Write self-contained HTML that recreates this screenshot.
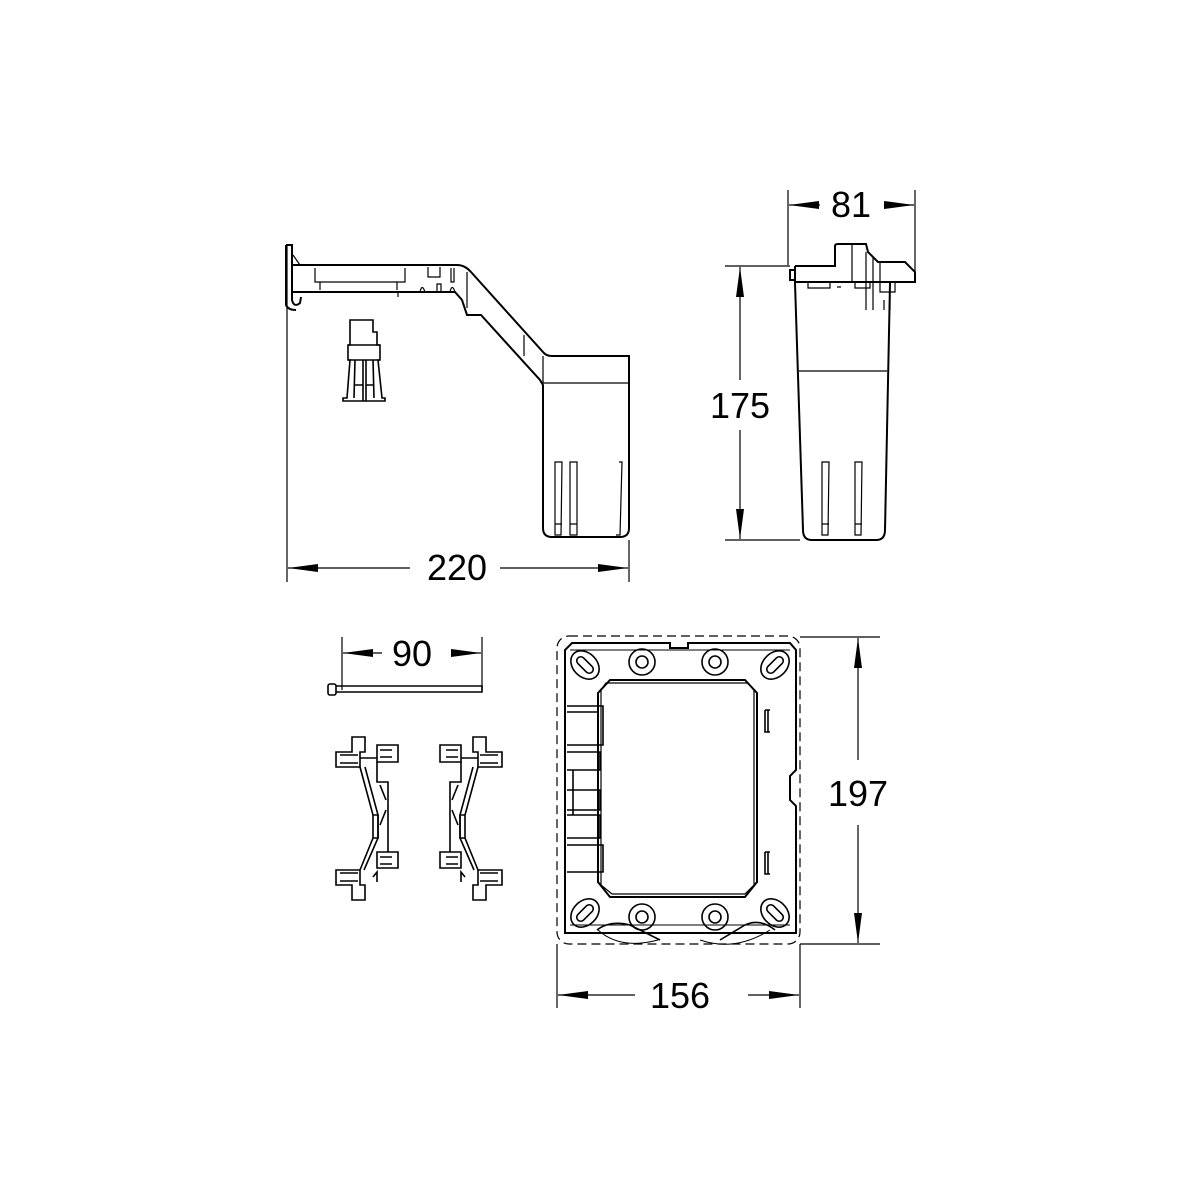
<!DOCTYPE html>
<html><head><meta charset="utf-8"><style>
html,body{margin:0;padding:0;background:#fff;}
svg{display:block}
text{font-family:"Liberation Sans",sans-serif;font-size:36px;fill:#000;}
</style></head><body>
<svg width="1200" height="1200" viewBox="0 0 1200 1200" xmlns="http://www.w3.org/2000/svg">
<defs>
<marker id="ar" markerWidth="30" markerHeight="10" refX="30" refY="5" orient="auto" markerUnits="userSpaceOnUse">
<path d="M0,1 L30,5 L0,9 Z" fill="#000"/></marker>
</defs>
<g fill="none" stroke="#000" stroke-width="1.2">
<!-- ===== Dimension 220 ===== -->
<line x1="287" y1="245" x2="287" y2="582"/>
<line x1="629" y1="540" x2="629" y2="582"/>
<line x1="330" y1="568" x2="288" y2="568" marker-end="url(#ar)"/>
<line x1="410" y1="568" x2="330" y2="568"/>
<line x1="500" y1="568" x2="628" y2="568" marker-end="url(#ar)"/>

<!-- ===== Side view ===== -->
<g stroke-width="2">
<path d="M286,245 L292,245 L292,300 Q294,308 300,303 L301,297"/>
<path d="M286,245 L286,305 Q288,310 296,310"/>
<path d="M292,265 L457,265 Q465,265 471,272 L543,352 Q546,356 552,356 L629,356 L629,528 Q629,537 620,537 L552,537 Q543,537 543,528 L543,385 L540,380 L481,315 L467,315 L462,300 L455,292 L292,292"/>
</g>
<path d="M293,255 L300,265"/>
<path d="M315,268 L315,282 L405,282 L405,268"/>
<path d="M320,282 L320,290 M397,282 L397,290"/>
<path d="M398,292 L398,297"/>
<path d="M428,267 L428,277 L440,277 L440,267"/>
<path d="M451,268 L451,282 L454,282 L454,268"/>
<path d="M420,292 Q422,283 425,292 M437,292 L437,284 L441,284 L441,292 M450,292 Q452,283 455,292"/>
<path d="M467,272 L467,308"/>
<path d="M524,335 L524,356"/>
<line x1="543" y1="383" x2="629" y2="383"/>
<line x1="543" y1="356" x2="543" y2="383"/>
<path d="M555,462 L562,462 L561,535 L555,535 Z M555,524 L562,524"/>
<path d="M570,462 L577,462 L577,535 L570,535 Z M570,524 L577,524"/>
<path d="M619,462 L622,462 L620,535 L616,535"/>
<!-- small part -->
<g stroke-width="1.6">
<path d="M350,320 L373,320 L373,332 L377,332 L377,345 L380,345 L380,360 L378,360 L382,398 L385,398 L385,401 L343,401 L343,398 L347,398 L350,360 L348,360 L348,345 L350,345 Z"/>
<line x1="348" y1="345" x2="380" y2="345"/>
<line x1="348" y1="360" x2="380" y2="360"/>
<path d="M355,360 L354,398 M363,360 L363,401 M366,360 L366,401 M373,360 L374,398"/>
<path d="M354,385 L363,385 M366,385 L373,385"/>
</g>

<!-- ===== Front view ===== -->
<line x1="725" y1="266" x2="790" y2="266"/>
<line x1="725" y1="540" x2="800" y2="540"/>
<line x1="740" y1="380" x2="740" y2="267" marker-end="url(#ar)"/>
<line x1="740" y1="430" x2="740" y2="539" marker-end="url(#ar)"/>
<line x1="788" y1="190" x2="788" y2="265"/>
<line x1="915" y1="190" x2="915" y2="272"/>
<line x1="820" y1="205" x2="789" y2="205" marker-end="url(#ar)"/>
<line x1="884" y1="205" x2="914" y2="205" marker-end="url(#ar)"/>
<g stroke-width="2">
<path d="M795,266 L835,266 L835,246 Q835,244 838,244 L866,244 L868,252 L878,262 L905,262 L915,272 L915,282 L890,282"/>
<path d="M795,266 L795,282 L890,282"/>
<path d="M790,270 L795,270 L795,280 L790,280 Z"/>
<path d="M795,283 L803,530 Q803,540 812,540 L876,540 Q885,540 885,530 L890,283"/>
</g>
<path d="M866,252 L866,310 M873,258 L873,310 M880,262 L880,292 L895,292 L895,282 M890,295 L890,310 M884,300 L884,310"/>
<path d="M808,283 L808,288 L830,288 L830,283 M855,283 L855,288 L870,288 L870,283 M837,287 L841,287"/>
<line x1="852" y1="244" x2="852" y2="282"/>
<line x1="799" y1="371" x2="887" y2="371"/>
<path d="M822,462 L829,462 L828,535 L822,535 Z M822,524 L829,524"/>
<path d="M855,462 L862,462 L861,535 L855,535 Z M855,524 L862,524"/>

<!-- ===== 90 rod ===== -->
<line x1="342" y1="637" x2="342" y2="690"/>
<line x1="482" y1="637" x2="482" y2="690"/>
<line x1="382" y1="653" x2="343" y2="653" marker-end="url(#ar)"/>
<line x1="452" y1="653" x2="481" y2="653" marker-end="url(#ar)"/>
<path d="M336,686 L482,686 L482,692 L336,692" stroke-width="1.6"/>
<rect x="328" y="684" width="8" height="11" rx="2" stroke-width="1.6"/>

<!-- ===== clips ===== -->
<g id="clip" stroke-width="1.6">
<path d="M352,737 L365,737 L365,752 L360,752 L360,767 L336,767 L336,752 L352,752 Z"/>
<path d="M340,755 L358,755 M340,763 L358,763"/>
<path d="M377,745 L398,745 L398,762 L377,762 Z M380,750 L392,750 M380,757 L392,757"/>
<path d="M360,758 L377,758 M377,762 L377,782 L388,782 L388,852"/>
<path d="M360,767 L373,815 L373,838 L360,870 M365,767 L378,815 L378,838 L364,870"/>
<path d="M373,815 L378,815 L378,838 L373,838"/>
<path d="M336,870 L360,870 L360,885 L365,885 L365,900 L352,900 L352,885 L336,885 Z M340,873 L358,873 M340,881 L358,881"/>
<path d="M377,852 L398,852 L398,868 L377,868 Z M380,857 L392,857 M380,864 L392,864"/>
<path d="M380,785 L386,800 M380,825 L386,810 M373,877 L377,872 L377,882"/>
</g>
<use href="#clip" transform="translate(838,0) scale(-1,1)"/>

<!-- ===== frame ===== -->
<rect x="557" y="636" width="243" height="308" rx="12" stroke-dasharray="9,5"/>
<line x1="800" y1="637" x2="880" y2="637"/>
<line x1="800" y1="944" x2="880" y2="944"/>
<line x1="858" y1="760" x2="858" y2="638" marker-end="url(#ar)"/>
<line x1="858" y1="825" x2="858" y2="943" marker-end="url(#ar)"/>
<line x1="557" y1="944" x2="557" y2="1008"/>
<line x1="800" y1="944" x2="800" y2="1008"/>
<line x1="635" y1="995" x2="558" y2="995" marker-end="url(#ar)"/>
<line x1="748" y1="995" x2="799" y2="995" marker-end="url(#ar)"/>
<g stroke-width="2">
<path d="M572,643 L670,643 L670,648 L688,648 L688,643 L790,643 L796,650 L796,770 L790,776 L790,800 L796,806 L796,933 L565,933 L565,650 Z"/>
<path d="M610,680 L745,680 L757,693 L757,882 L745,897 L610,897 L598,882 L598,693 Z"/>
<path d="M606,683 L748,683 L754,690 L754,885 L745,894 L612,894 L601,885 L601,690 Z" stroke-width="1.2"/>
</g>
<path d="M570,650 L790,650 M570,925 L790,925" stroke-width="1"/>
<g stroke-width="1.6">
<g transform="translate(585,665) rotate(45)"><ellipse rx="16" ry="12"/><rect x="-10" y="-4" width="20" height="8" rx="4"/></g>
<g transform="translate(775,665) rotate(-45)"><ellipse rx="16" ry="12"/><rect x="-10" y="-4" width="20" height="8" rx="4"/></g>
<g transform="translate(585,913) rotate(-45)"><ellipse rx="16" ry="12"/><rect x="-10" y="-4" width="20" height="8" rx="4"/></g>
<g transform="translate(775,913) rotate(45)"><ellipse rx="16" ry="12"/><rect x="-10" y="-4" width="20" height="8" rx="4"/></g>
<circle cx="642" cy="662" r="13"/><circle cx="642" cy="662" r="6"/>
<circle cx="715" cy="662" r="13"/><circle cx="715" cy="662" r="6"/>
<circle cx="642" cy="917" r="13"/><circle cx="642" cy="917" r="6"/>
<circle cx="715" cy="917" r="13"/><circle cx="715" cy="917" r="6"/>
<path d="M567,706 L603,706 L603,745 L567,745 M567,712 L597,712 M567,752 L600,752 L600,770 L567,770 M567,790 L600,790 L600,810 L567,810 M567,815 L600,815 L600,838 L567,838 M567,845 L603,845 L603,872 L567,872"/>
<path d="M573,770 L573,815"/>
<path d="M765,710 L770,710 M765,710 L765,732 L770,732 M768,710 L768,732"/>
<path d="M765,852 L770,852 M765,852 L765,874 L770,874 M768,852 L768,874"/>
<path d="M597,930 Q610,920 630,925 L660,940 M720,940 L745,925 Q760,918 775,930"/>
<path d="M598,930 Q620,950 658,940 M700,940 Q735,952 770,930" stroke-width="1"/>
</g>
</g>
<text x="457" y="580" text-anchor="middle">220</text>
<text x="740" y="418" text-anchor="middle">175</text>
<text x="851" y="217" text-anchor="middle">81</text>
<text x="412" y="666" text-anchor="middle">90</text>
<text x="858" y="806" text-anchor="middle">197</text>
<text x="680" y="1008" text-anchor="middle">156</text>
</svg>
</body></html>
